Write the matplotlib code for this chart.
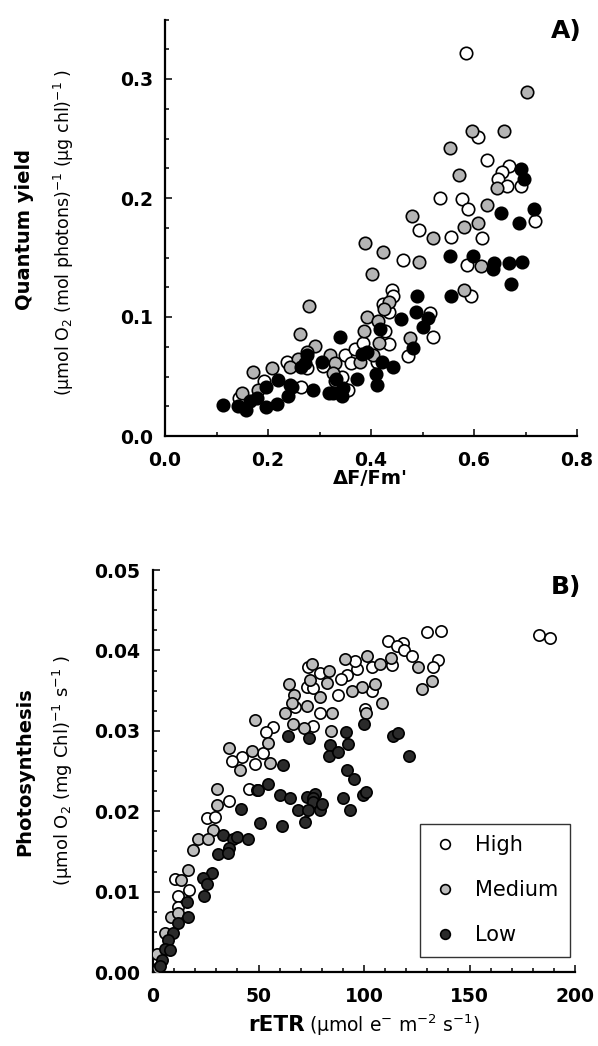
import matplotlib
matplotlib.use("Agg")
import matplotlib.pyplot as plt
from matplotlib.ticker import MultipleLocator, FormatStrFormatter
from matplotlib.lines import Line2D

plt.rcParams['font.family'] = ['DejaVu Sans']
plt.rcParams['mathtext.fontset'] = 'dejavusans'

# ---------------- Panel A data: (dF/Fm', quantum yield) ----------------
high_A = [(0.584, 0.322), (0.607, 0.251), (0.625, 0.232), (0.667, 0.227), (0.654, 0.222),
          (0.647, 0.216), (0.665, 0.210), (0.691, 0.210), (0.534, 0.200), (0.577, 0.199),
          (0.588, 0.191), (0.718, 0.181), (0.494, 0.173), (0.555, 0.167), (0.615, 0.166),
          (0.463, 0.148), (0.586, 0.144), (0.440, 0.123), (0.443, 0.118), (0.423, 0.111),
          (0.594, 0.118), (0.515, 0.103), (0.521, 0.083), (0.427, 0.088), (0.435, 0.077),
          (0.434, 0.104), (0.472, 0.067), (0.275, 0.057), (0.236, 0.062), (0.265, 0.041),
          (0.307, 0.059), (0.350, 0.068), (0.369, 0.073), (0.385, 0.078), (0.361, 0.061),
          (0.412, 0.062), (0.343, 0.050), (0.355, 0.039), (0.193, 0.046), (0.144, 0.032)]
medium_A = [(0.702, 0.289), (0.597, 0.256), (0.659, 0.256), (0.553, 0.242), (0.571, 0.219),
            (0.644, 0.208), (0.625, 0.194), (0.479, 0.185), (0.581, 0.176), (0.607, 0.179),
            (0.521, 0.166), (0.388, 0.162), (0.423, 0.155), (0.494, 0.146), (0.614, 0.143),
            (0.401, 0.136), (0.434, 0.113), (0.425, 0.107), (0.581, 0.123), (0.392, 0.100),
            (0.414, 0.097), (0.386, 0.088), (0.476, 0.082), (0.416, 0.078), (0.279, 0.109),
            (0.262, 0.086), (0.292, 0.076), (0.275, 0.071), (0.258, 0.065), (0.243, 0.058),
            (0.207, 0.057), (0.170, 0.054), (0.320, 0.068), (0.330, 0.061), (0.379, 0.062),
            (0.404, 0.068), (0.180, 0.039), (0.149, 0.036), (0.327, 0.053), (0.330, 0.046)]
low_A = [(0.691, 0.224), (0.698, 0.216), (0.652, 0.187), (0.717, 0.191), (0.688, 0.179),
         (0.553, 0.151), (0.599, 0.151), (0.639, 0.145), (0.636, 0.140), (0.667, 0.145),
         (0.694, 0.146), (0.672, 0.128), (0.489, 0.118), (0.555, 0.118), (0.487, 0.104),
         (0.511, 0.099), (0.458, 0.098), (0.500, 0.092), (0.417, 0.090), (0.482, 0.074),
         (0.340, 0.083), (0.392, 0.071), (0.382, 0.069), (0.275, 0.068), (0.271, 0.061),
         (0.421, 0.062), (0.443, 0.058), (0.410, 0.052), (0.411, 0.043), (0.372, 0.048),
         (0.333, 0.048), (0.327, 0.036), (0.346, 0.040), (0.319, 0.036), (0.343, 0.034),
         (0.220, 0.047), (0.196, 0.041), (0.288, 0.039), (0.243, 0.043), (0.247, 0.041),
         (0.239, 0.034), (0.113, 0.026), (0.142, 0.025), (0.157, 0.022), (0.196, 0.024),
         (0.218, 0.027), (0.178, 0.032), (0.166, 0.029), (0.305, 0.062), (0.265, 0.058)]

# ---------------- Panel B data: (rETR, photosynthesis) ----------------
high_B = [(129.7, .0423), (136.3, .0424), (182.9, .0419), (188.2, .0415), (111.5, .0412),
          (118.6, .0409), (115.5, .0405), (119.1, .0401), (122.6, .0393), (135.2, .0388),
          (132.8, .0379), (113.1, .0382), (103.6, .0379), (96.5, .0377), (91.8, .0370),
          (89.1, .0364), (95.7, .0387), (79.1, .0372), (73.6, .0379), (72.8, .0354),
          (76.0, .0353), (87.5, .0345), (103.6, .0350), (79.1, .0322), (100.5, .0327),
          (67.3, .0330), (76.0, .0306), (57.0, .0305), (53.6, .0299), (42.0, .0268),
          (37.3, .0262), (48.3, .0259), (52.3, .0272), (45.6, .0227), (36.2, .0213),
          (25.4, .0191), (29.4, .0193), (10.4, .0116), (17.2, .0102), (11.7, .0094),
          (12.0, .0081)]
medium_B = [(91.0, .0389), (101.3, .0393), (112.8, .0391), (107.6, .0383), (75.5, .0383),
            (83.6, .0375), (74.4, .0363), (82.3, .0360), (98.9, .0354), (105.2, .0358),
            (94.2, .0349), (64.5, .0358), (66.8, .0345), (79.1, .0342), (65.7, .0335),
            (73.1, .0331), (62.6, .0322), (84.7, .0322), (66.2, .0309), (71.7, .0303),
            (84.4, .0300), (108.4, .0335), (125.4, .0379), (132.1, .0362), (127.3, .0352),
            (100.9, .0322), (48.3, .0313), (54.6, .0285), (36.2, .0278), (46.8, .0275),
            (41.2, .0251), (55.5, .0260), (30.5, .0228), (30.2, .0208), (28.6, .0177),
            (21.5, .0165), (25.9, .0166), (19.1, .0152), (16.4, .0127), (13.3, .0114),
            (8.5, .0069), (12.0, .0073), (5.7, .0049), (1.8, .0023), (2.5, .0005)]
low_B = [(64.1, .0293), (73.9, .0291), (91.3, .0298), (92.3, .0284), (83.9, .0282),
         (83.4, .0269), (87.8, .0274), (100.0, .0309), (113.9, .0294), (116.3, .0297),
         (121.5, .0269), (91.8, .0251), (95.4, .0240), (61.5, .0258), (54.6, .0234),
         (49.4, .0226), (60.2, .0220), (64.9, .0216), (72.8, .0218), (76.8, .0222),
         (75.7, .0217), (89.9, .0216), (99.7, .0220), (100.9, .0224), (41.6, .0203),
         (76.0, .0212), (68.9, .0201), (73.6, .0201), (79.1, .0202), (93.4, .0201),
         (49.9, .0226), (72.0, .0186), (61.3, .0181), (50.7, .0185), (33.3, .0170),
         (38.1, .0166), (39.7, .0168), (45.2, .0166), (36.0, .0154), (31.0, .0147),
         (35.4, .0148), (28.1, .0123), (23.8, .0117), (25.5, .0109), (24.3, .0094),
         (16.0, .0087), (16.7, .0069), (12.0, .0061), (9.6, .0049), (7.3, .0040),
         (5.7, .0029), (8.1, .0027), (4.1, .0015), (3.3, .0007), (80.0, .0209)]

labels = ["High", "Medium", "Low"]
colors_A = ["white", "#b4b4b4", "black"]
colors_B = ["white", "#bdbdbd", "#2a2a2a"]

W, H = 598, 1046
fig = plt.figure(figsize=(W / 100, H / 100), dpi=100)

def ax_rect(l, t, r, b):
    return [l / W, 1 - b / H, (r - l) / W, (b - t) / H]

def style(ax, xpad, ypad):
    for s in ("top", "right"):
        ax.spines[s].set_visible(False)
    for s in ("left", "bottom"):
        ax.spines[s].set_linewidth(1.6)
    ax.tick_params(which="both", direction="in", width=1.1)
    ax.tick_params(which="major", length=5, labelsize=13.5)
    ax.tick_params(axis="x", which="major", pad=xpad)
    ax.tick_params(axis="y", which="major", pad=ypad)
    ax.tick_params(which="minor", length=3)
    for lab in ax.get_xticklabels() + ax.get_yticklabels():
        lab.set_fontweight("bold")

# ---------------- Panel A ----------------
axA = fig.add_axes(ax_rect(165, 19.5, 577, 436))
for data, c in zip([high_A, medium_A, low_A], colors_A):
    xs = [p[0] for p in data]
    ys = [p[1] for p in data]
    axA.scatter(xs, ys, s=80, c=c, edgecolors="black", linewidths=1.2, zorder=3)
axA.set_xlim(0, 0.8)
axA.set_ylim(0, 0.35)
axA.xaxis.set_major_locator(MultipleLocator(0.2))
axA.xaxis.set_minor_locator(MultipleLocator(0.1))
axA.yaxis.set_major_locator(MultipleLocator(0.1))
axA.yaxis.set_minor_locator(MultipleLocator(0.025))
axA.xaxis.set_major_formatter(FormatStrFormatter("%.1f"))
axA.yaxis.set_major_formatter(FormatStrFormatter("%.1f"))
style(axA, 11, 8.5)

fig.text(566 / W, 1 - 31 / H, "A)", fontsize=18, fontweight="bold", ha="center", va="center")
fig.text(370 / W, 1 - 479 / H, "\u0394F/Fm'", fontsize=14, fontweight="bold", ha="center", va="center")
fig.text(25 / W, 1 - 230 / H, "Quantum yield", fontsize=14, fontweight="bold",
         rotation=90, ha="center", va="center")
fig.text(64 / W, 1 - 232 / H, "(\u03bcmol O$_2$ (mol photons)$^{-1}$ (\u03bcg chl)$^{-1}$ )",
         fontsize=12.5, rotation=90, ha="center", va="center")

# ---------------- Panel B ----------------
axB = fig.add_axes(ax_rect(153, 570, 575, 972))
for data, c in zip([high_B, medium_B, low_B], colors_B):
    xs = [p[0] for p in data]
    ys = [p[1] for p in data]
    axB.scatter(xs, ys, s=66, c=c, edgecolors="black", linewidths=1.2, zorder=3)
axB.set_xlim(0, 200)
axB.set_ylim(0, 0.05)
axB.xaxis.set_major_locator(MultipleLocator(50))
axB.xaxis.set_minor_locator(MultipleLocator(10))
axB.yaxis.set_major_locator(MultipleLocator(0.01))
axB.yaxis.set_minor_locator(MultipleLocator(0.0025))
axB.xaxis.set_major_formatter(FormatStrFormatter("%d"))
axB.yaxis.set_major_formatter(FormatStrFormatter("%.2f"))
style(axB, 11, 9.5)

handles = [Line2D([], [], ls="none", marker="o", markersize=7, markerfacecolor=c,
                  markeredgecolor="black", markeredgewidth=1.2) for c in colors_B]
leg = axB.legend(handles, labels, loc="lower right", bbox_to_anchor=(0.988, 0.038),
                 fontsize=15, frameon=True, fancybox=False, labelspacing=1.2,
                 handletextpad=0.8, borderpad=0.55, handlelength=1.3, borderaxespad=0)
leg.get_frame().set_edgecolor("black")
leg.get_frame().set_linewidth(1.0)

fig.text(566 / W, 1 - 587 / H, "B)", fontsize=18, fontweight="bold", ha="center", va="center")
fig.text(305 / W, 1 - 1025 / H, "rETR", fontsize=15.5, fontweight="bold", ha="right", va="center")
fig.text(309 / W, 1 - 1025 / H, "(\u03bcmol e$^{-}$ m$^{-2}$ s$^{-1}$)", fontsize=13.5,
         ha="left", va="center")
fig.text(25 / W, 1 - 772 / H, "Photosynthesis", fontsize=14, fontweight="bold",
         rotation=90, ha="center", va="center")
fig.text(63 / W, 1 - 771 / H, "(\u03bcmol O$_2$ (mg Chl)$^{-1}$ s$^{-1}$ )",
         fontsize=13, rotation=90, ha="center", va="center")

fig.savefig("out.png", dpi=100)
